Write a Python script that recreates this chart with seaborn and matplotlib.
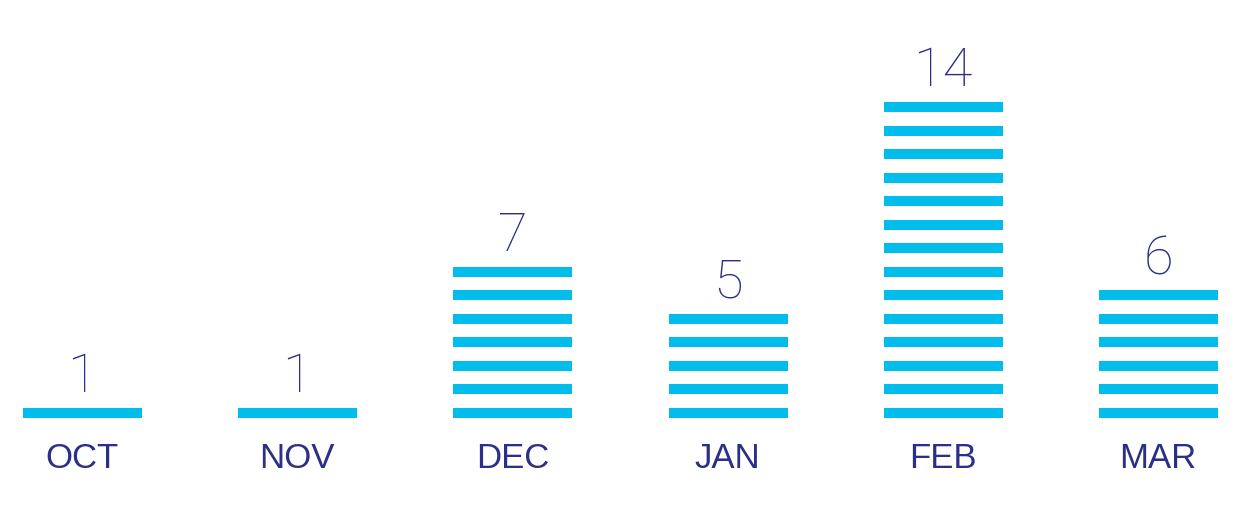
import pandas as pd
import matplotlib.pyplot as plt
import seaborn as sns

months = ['OCT', 'NOV', 'DEC', 'JAN', 'FEB', 'MAR']
counts = [1, 1, 7, 5, 14, 6]

STRIPE = '#00BDEB'
NAVY = '#2B2F87'

# one row per stripe
rows = []
for i, (m, n) in enumerate(zip(months, counts)):
    for lvl in range(n):
        rows.append({'pos': i, 'month': m, 'level': lvl})
df = pd.DataFrame(rows)

sns.set_style("white")
fig = plt.figure(figsize=(12.4, 5.17), dpi=100)
ax = fig.add_axes([0, 0, 1, 1])

bar_pt = 119 * 72 / 100
sns.scatterplot(data=df, x='pos', y='level', marker='_', s=bar_pt ** 2,
                linewidth=10 * 72 / 100, color=STRIPE, legend=False, ax=ax)

for i, (m, n) in enumerate(zip(months, counts)):
    ax.text(i, n - 1 + 0.9, str(n), ha='center', va='baseline',
            fontsize=39, color=NAVY, family=['Roboto', 'DejaVu Sans'], fontweight='light')
    ax.text(i, -2.34, m, ha='center', va='baseline',
            fontsize=25, color=NAVY, family=['Liberation Sans', 'DejaVu Sans'])

ax.set_xlim(-0.381, 5.381)
ax.set_ylim(-4.426, 17.574)
ax.axis('off')

fig.savefig('out.png', dpi=100)
